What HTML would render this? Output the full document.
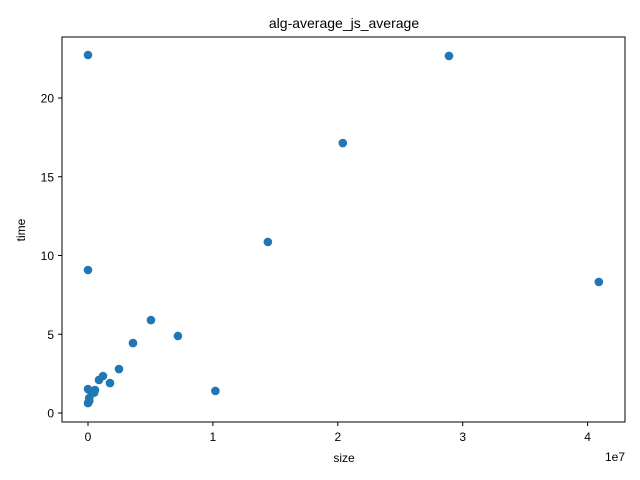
<!DOCTYPE html>
<html><head><meta charset="utf-8"><style>
body{margin:0;background:#fff;}
svg{display:block;font-family:"Liberation Sans","DejaVu Sans",sans-serif;}
</style></head><body>
<svg id="chart" width="640" height="480">
<rect width="640" height="480" fill="#fff"/>
<text x="344" y="28" font-size="14" text-anchor="middle">alg-average_js_average</text>
<g id="marks"></g>
<rect x="62" y="37" width="563" height="385" fill="none" stroke="#000" stroke-width="1"/>
<g id="axes"></g>
<text x="344" y="462" font-size="12" text-anchor="middle">size</text>
<text x="25" y="230" font-size="12" text-anchor="middle" transform="rotate(-90 25 230)">time</text>
<text x="625" y="461" font-size="12" text-anchor="end">1e7</text>
</svg>
<script>
const sizes=[0,2.89e7,2.04e7,1.44e7,4.09e7,0,0.504e7,0.72e7,0.36e7,1.02e7,0.248e7,0.176e7,0.12e7,0.088e7,0.056e7,0,0.05e7,0.03e7,0.01e7,0,0.01e7];
const times=[22.73,22.67,17.14,10.86,8.32,9.08,5.9,4.89,4.44,1.40,2.79,1.90,2.35,2.1,1.46,1.52,1.3,1.25,0.95,0.63,0.76];
const xTicks=[0,1,2,3,4];
const yTicks=[0,5,10,15,20];
const ns="http://www.w3.org/2000/svg";
const X=v=>88+v/1e7*124.9;
const Y=v=>413-v*15.75;
const marks=document.getElementById('marks');
sizes.forEach((s,i)=>{
const c=document.createElementNS(ns,'circle');
c.setAttribute('cx',X(s));c.setAttribute('cy',Y(times[i]));c.setAttribute('r',4.3);c.setAttribute('fill','#1f77b4');


marks.appendChild(c);
});
const ax=document.getElementById('axes');
xTicks.forEach(t=>{
const l=document.createElementNS(ns,'line');
l.setAttribute('x1',X(t*1e7));l.setAttribute('x2',X(t*1e7));l.setAttribute('y1',422);l.setAttribute('y2',426);l.setAttribute('stroke','#000');


ax.appendChild(l);
const tx=document.createElementNS(ns,'text');
tx.setAttribute('x',X(t*1e7));tx.setAttribute('y',441);tx.setAttribute('font-size','12');tx.setAttribute('text-anchor','middle');tx.textContent=t;


ax.appendChild(tx);
});
yTicks.forEach(t=>{
const l=document.createElementNS(ns,'line');
l.setAttribute('x1',58);l.setAttribute('x2',62);l.setAttribute('y1',Y(t));l.setAttribute('y2',Y(t));l.setAttribute('stroke','#000');


ax.appendChild(l);
const tx=document.createElementNS(ns,'text');
tx.setAttribute('x',54);tx.setAttribute('y',Y(t)+4.5);tx.setAttribute('font-size','12');tx.setAttribute('text-anchor','end');tx.textContent=t;


ax.appendChild(tx);
});
</script>
</body></html>
